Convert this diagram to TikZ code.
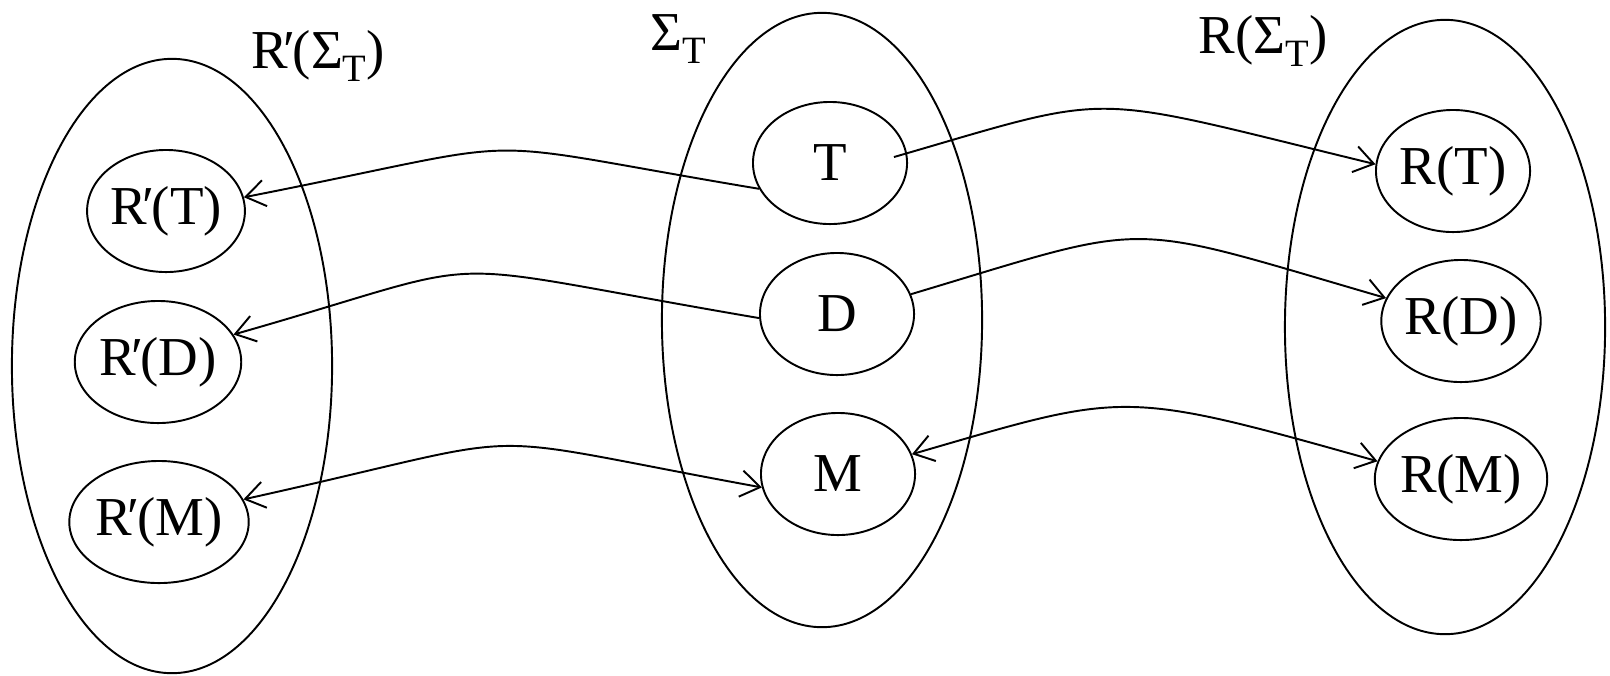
\documentclass[tikz,border=0pt]{standalone}
\usepackage{fontspec}
\setmainfont{Liberation Serif}
\usetikzlibrary{arrows.meta,shapes.geometric}

\newcommand{\lowsub}[1]{\raisebox{-3.5pt}{\fontsize{11}{12}\selectfont #1}}
\newcommand{\Rp}{R\kern-1.2pt′\kern-0.8pt}

\begin{document}
\begin{tikzpicture}[
    x=0.01cm, y=-0.01cm,
    line width=0.55pt,
    >={Straight Barb[length=5.5pt,width=7.5pt]},
    every node/.style={font=\fontsize{15.6}{18}\selectfont},
    bigset/.style={draw, ellipse, minimum width=3.2cm, minimum height=6.14cm, inner sep=0pt},
    member/.style={draw, ellipse, minimum width=1.54cm, minimum height=1.22cm, inner sep=0pt}
]
\useasboundingbox (0,0) rectangle (1610,675);

% the three sets
\node[bigset] (leftset) at (172,366) {};
\node[bigset] (midset) at (822,320) {};
\node[bigset] (rightset) at (1445,327) {};

\node (leftlbl) at (318,56) {\Rp(Σ\lowsub{T})};
\node (midlbl) at (678,39) {Σ\lowsub{T}};
\node (rightlbl) at (1263,41) {R(Σ\lowsub{T})};

% members
\node[member] (T) at (830,163) {T};
\node[member] (D) at (837,314) {D};
\node[member] (M) at (838,474) {M};
\node[member] (rpT) at (166,211) {\Rp(T)};
\node[member] (rpD) at (158,362) {\Rp(D)};
\node[member] (rpM) at (159,522) {\Rp(M)};
\node[member] (rT) at (1453,171) {R(T)};
\node[member] (rD) at (1461,321) {R(D)};
\node[member] (rM) at (1461,479) {R(M)};

% maps to the left
\draw[->] (T.200) .. controls +(-311,-52) and +(311,-61) .. (rpT.10);
\draw[->] (D.183) .. controls +(-352,-60) and +(281,-80) .. (rpD.20);
\draw[<->] (rpM.15) .. controls +(312,-69) and +(-312,-57) .. (M.190);

% maps to the right
\draw[->] ([xshift=-4pt,yshift=1.7pt]T.east) .. controls +(228,-66) and +(-297,-72) .. (rT.175);
\draw[->] (D.15) .. controls +(247,-74) and +(-268,-78) .. (rD.163);
\draw[<->] (M.15) .. controls +(214,-62) and +(-259,-73) .. (rM.168);

\end{tikzpicture}
\end{document}
